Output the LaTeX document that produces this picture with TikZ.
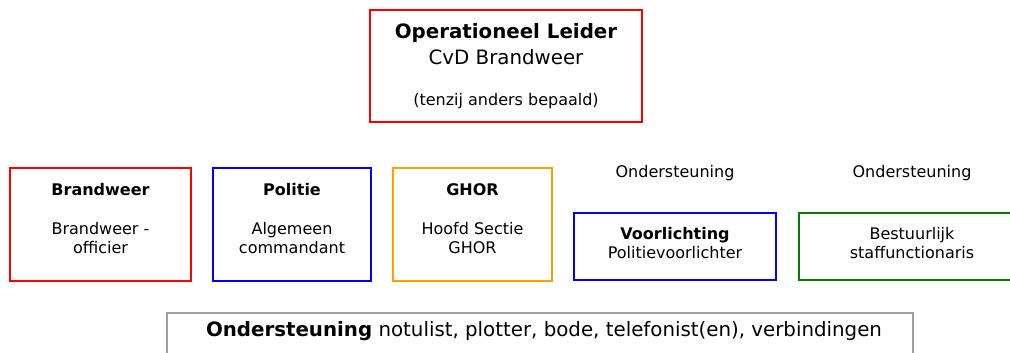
\documentclass[tikz,border=0pt]{standalone}
\usepackage{fontspec}
\setmainfont{DejaVu Sans}
\usepackage{xcolor}
\definecolor{leadred}{RGB}{255, 0, 0}
\definecolor{policeblue}{RGB}{0, 0, 255}
\definecolor{ghororange}{RGB}{255, 160, 0}
\definecolor{staffgreen}{RGB}{0, 128, 0}
\definecolor{supportgray}{RGB}{160, 160, 160}
\definecolor{textblack}{RGB}{0, 0, 0}

\begin{document}
\begin{tikzpicture}[
        x=1pt, y=-1pt,
        box/.style={rectangle, line width=1.5pt, inner sep=0pt, fill=white},
        sectorbox/.style={box, minimum height=113pt},
        staffbox/.style={box, minimum height=67pt},
        smalltext/.style={font=\fontsize{16}{19}\selectfont, align=center, anchor=base, text=textblack},
        bigtext/.style={font=\fontsize{19.8}{26}\selectfont, align=center, anchor=base, text=textblack}
    ]
    \useasboundingbox (0, 0) rectangle (1010, 353);
    \clip (0, 0) rectangle (1010, 353);

    % Operational leader (base = last line)
    \node[box, draw=leadred, minimum width=272pt, minimum height=112pt] (leider) at (506, 66) {};
    \node[bigtext] (leidertxt) at (506, 65) {\textbf{Operationeel Leider}\\CvD Brandweer};
    \node[smalltext] (leidernote) at (506, 106) {(tenzij anders bepaald)};

    % Sectors
    \node[sectorbox, draw=leadred, minimum width=181pt] (brandweer) at (100.5, 224.5) {};
    \node[sectorbox, draw=policeblue, minimum width=158pt] (politie) at (292, 224.5) {};
    \node[sectorbox, draw=ghororange, minimum width=159pt] (ghor) at (472.5, 224.5) {};
    \node[smalltext] (brandweertxt) at (100.5, 253) {\textbf{Brandweer}\\[20pt]Brandweer -\\officier};
    \node[smalltext] (politietxt) at (292, 253) {\textbf{Politie}\\[20pt]Algemeen\\commandant};
    \node[smalltext] (ghortxt) at (472.5, 253) {\textbf{GHOR}\\[20pt]Hoofd Sectie\\GHOR};

    % Support staff
    \node[smalltext] (ondvoorl) at (675, 177) {Ondersteuning};
    \node[smalltext] (ondbestuur) at (912, 177) {Ondersteuning};
    \node[staffbox, draw=policeblue, minimum width=202pt] (voorlichting) at (675, 246.5) {};
    \node[staffbox, draw=staffgreen, minimum width=226pt] (bestuur) at (912, 246.5) {};
    \node[smalltext] (voorlichtingtxt) at (675, 258) {\textbf{Voorlichting}\\Politievoorlichter};
    \node[smalltext] (bestuurtxt) at (912, 258) {Bestuurlijk\\staffunctionaris};

    % General support
    \node[box, draw=supportgray, minimum width=746pt, minimum height=80pt] (ondersteuning) at (540, 353) {};
    \node[bigtext] (ondersteuningtxt) at (544, 336) {\textbf{Ondersteuning} notulist, plotter, bode, telefonist(en), verbindingen};

    \end{tikzpicture}
\end{document}
